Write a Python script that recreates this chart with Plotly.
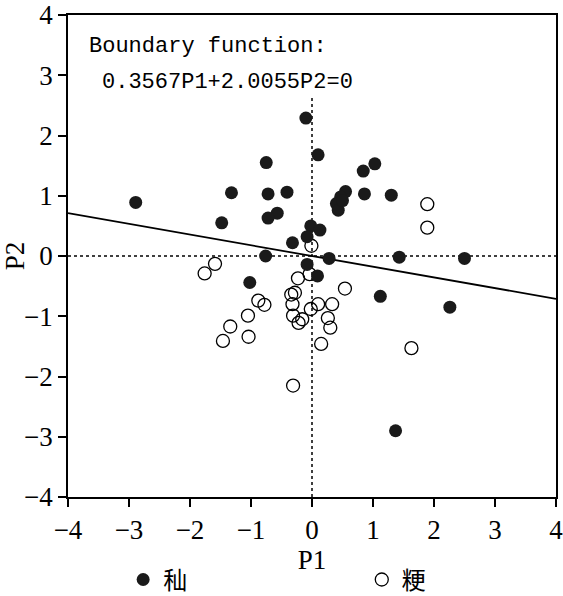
import plotly.graph_objects as go

# 秈 (filled)
xian_p1 = [-2.89, -1.32, -0.75, -0.72, -0.41, -1.48, -0.57, -0.72, -0.32, -0.76, -1.02,
           -0.10, 0.10, 0.84, 1.03, 0.55, 0.47, 0.40, 0.43, 0.50, 0.86, 1.30, -0.02, 0.13,
           -0.08, 0.28, 1.43, 2.50, -0.08, 0.09, 1.12, 2.26, 1.37]
xian_p2 = [0.89, 1.05, 1.55, 1.03, 1.06, 0.55, 0.71, 0.63, 0.22, 0.00, -0.44,
           2.29, 1.68, 1.41, 1.53, 1.07, 0.98, 0.87, 0.76, 0.92, 1.03, 1.01, 0.50, 0.43,
           0.32, -0.04, -0.02, -0.04, -0.14, -0.33, -0.67, -0.85, -2.90]

# 粳 (open)
geng_p1 = [-0.01, -1.59, -1.76, -0.23, -0.04, 0.54, -0.34, -0.28, -0.88, -0.78, -0.32,
           0.10, 0.33, -0.02, -0.31, -0.16, -0.22, 0.26, 0.30, -1.05, -1.34, -1.46,
           -1.04, 0.15, -0.31, 1.63, 1.89, 1.89]
geng_p2 = [0.17, -0.13, -0.29, -0.37, -0.30, -0.54, -0.64, -0.61, -0.74, -0.81, -0.80,
           -0.80, -0.80, -0.88, -0.99, -1.05, -1.11, -1.03, -1.19, -0.99, -1.17, -1.41,
           -1.34, -1.46, -2.15, -1.53, 0.86, 0.47]

# boundary function coefficients: a*P1 + b*P2 = 0
coef_a = 0.3567
coef_b = 2.0055
x_range = [-4, 4]
ticks = [-4, -3, -2, -1, 0, 1, 2, 3, 4]

FONT = "Liberation Serif, serif"
MONO = "Liberation Mono, monospace"
CJK = "Noto Sans CJK SC"

fig = go.Figure()

# reference dotted lines
fig.add_trace(go.Scatter(x=x_range, y=[0, 0], mode="lines",
                         line=dict(color="black", width=1.5, dash="dot"),
                         showlegend=False, hoverinfo="skip"))
fig.add_trace(go.Scatter(x=[0, 0], y=[-4, 2.65], mode="lines",
                         line=dict(color="black", width=1.5, dash="dot"),
                         showlegend=False, hoverinfo="skip"))

# boundary line
bx = x_range
by = [-coef_a * v / coef_b for v in bx]
fig.add_trace(go.Scatter(x=bx, y=by, mode="lines",
                         line=dict(color="black", width=1.8),
                         showlegend=False, hoverinfo="skip"))

fig.add_trace(go.Scatter(x=geng_p1, y=geng_p2, mode="markers", name="粳",
                         legend="legend2",
                         marker=dict(symbol="circle-open", size=13,
                                     color="black", line=dict(width=1.3))))
fig.add_trace(go.Scatter(x=xian_p1, y=xian_p2, mode="markers", name="秈",
                         legend="legend",
                         marker=dict(symbol="circle", size=13, color="#1a1a1a")))

fig.add_annotation(x=0.039, y=0.934, xref="paper", yref="paper", xanchor="left",
                   yanchor="middle", showarrow=False,
                   text="Boundary function:", font=dict(family=MONO, size=22, color="black"))
fig.add_annotation(x=0.066, y=0.859, xref="paper", yref="paper", xanchor="left",
                   yanchor="middle", showarrow=False,
                   text=f"{coef_a}P1+{coef_b}P2=0", font=dict(family=MONO, size=22, color="black"))

axis_common = dict(range=[-4, 4], tickvals=ticks, ticks="outside", ticklen=8,
                   tickwidth=1.5, tickcolor="black", showline=True, linecolor="black",
                   linewidth=1.8, mirror=True, showgrid=False, zeroline=False,
                   automargin=False, ticklabeloverflow="allow",
                   tickfont=dict(family=FONT, size=27, color="black"))

fig.update_xaxes(**axis_common, title=dict(text="P1", standoff=0,
                 font=dict(family=FONT, size=27, color="black")))
fig.update_yaxes(**axis_common, title=dict(text="P2", standoff=4,
                 font=dict(family=FONT, size=27, color="black")))

leg_common = dict(orientation="h", yanchor="middle", xanchor="left",
                  font=dict(family=CJK, size=24, color="black"),
                  bgcolor="rgba(0,0,0,0)")

fig.update_layout(
    width=563, height=596,
    margin=dict(l=68, r=7, t=15, b=99, autoexpand=False),
    plot_bgcolor="white", paper_bgcolor="white",
    font=dict(family=FONT, color="black"),
    legend=dict(**leg_common, x=0.113, y=-0.172),
    legend2=dict(**leg_common, x=0.602, y=-0.172),
)

fig.write_html("out.html", config={"displayModeBar": False},
               post_script="document.body.style.margin='0';document.body.style.overflow='hidden';")
